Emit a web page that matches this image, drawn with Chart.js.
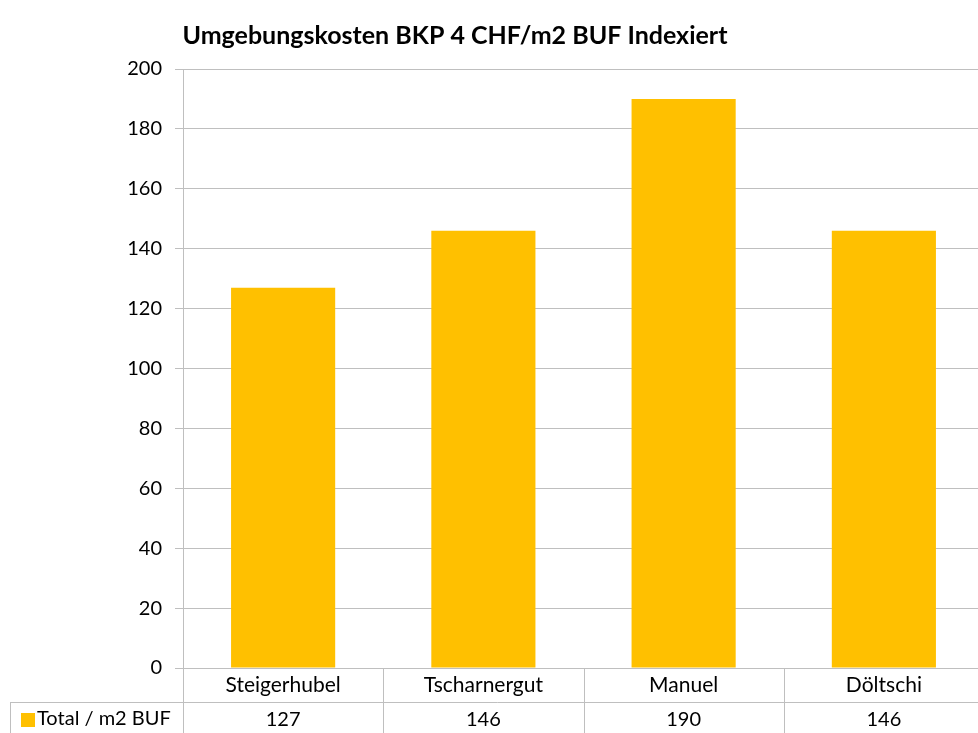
<!DOCTYPE html>
<html>
<head>
<meta charset="utf-8">
<script src="https://cdn.jsdelivr.net/npm/chart.js@4.4.0/dist/chart.umd.min.js"></script>
<style>
  html, body { margin: 0; padding: 0; background: #fff; overflow: hidden; }
  #wrap { width: 984px; height: 733px; }
</style>
</head>
<body>
<div id="wrap"><canvas id="chartBKP" width="984" height="733"></canvas></div>
<script>
const categories = ["Steigerhubel", "Tscharnergut", "Manuel", "Döltschi"];
const totals = [127, 146, 190, 146];
const seriesName = "Total / m2 BUF";
const chartTitle = "Umgebungskosten BKP 4 CHF/m2 BUF Indexiert";

const FONT = "Lato, 'Open Sans', sans-serif";
const GOLD = "#FFC000";
const LINE = "#bfbfbf";

// title + data table under the x axis
const tablePlugin = {
    id: "dataTable",
    afterDraw(chart) {
        const c = chart.ctx;
        const area = chart.chartArea;
        const xs = chart.scales.x;
        const rowTop = 702;
        const bottom = 733;
        c.save();
        c.strokeStyle = LINE;
        c.lineWidth = 1;
        c.beginPath();
        // horizontal line between label row and value row
        c.moveTo(10.5, rowTop + 0.5);
        c.lineTo(area.right, rowTop + 0.5);
        // left border of series cell
        c.moveTo(10.5, rowTop);
        c.lineTo(10.5, bottom);
        // column separators
        for (let i = 0; i <= categories.length; i++) {
            const x = Math.round(area.left + (area.right - area.left) * i / categories.length) + 0.5;
            c.moveTo(x, area.bottom);
            c.lineTo(x, bottom);
        }
        c.stroke();

        // legend key + series name
        c.fillStyle = GOLD;
        c.fillRect(21, 713, 14, 14);
        c.fillStyle = "#000";
        c.font = "20px " + FONT;
        c.textBaseline = "middle";
        c.textAlign = "left";
        c.fillText(seriesName, 37, 719);

        // values
        c.font = "20px " + FONT;
        c.textAlign = "center";
        totals.forEach((v, i) => {
            c.fillText(String(v), xs.getPixelForValue(i), 720);
        });

        // title
        c.font = "bold 25px " + FONT;
        c.fillText(chartTitle, 455, 36);
        c.restore();
    }
};

var ctx = document.getElementById("chartBKP").getContext("2d");
var chartBKP = new Chart(ctx, {
    type: "bar",
    data: {
        labels: categories,
        datasets: [{
            label: seriesName,
            data: totals,
            backgroundColor: GOLD,
            categoryPercentage: 1,
            barPercentage: 0.52
        }]
    },
    options: {
        responsive: false,
        animation: false,
        layout: { padding: { top: 69, left: 0, right: 0, bottom: 0 } },
        plugins: {
            legend: { display: false },
            tooltip: { enabled: false }
        },
        scales: {
            x: {
                grid: { display: false, drawTicks: false },
                border: { color: LINE },
                ticks: { color: "#000", font: { family: FONT, size: 21 }, padding: 5 },
                afterFit: (s) => { s.height = 65; }
            },
            y: {
                min: 0,
                max: 200,
                ticks: { stepSize: 20, color: "#000", font: { family: FONT, size: 20 }, padding: 13 },
                grid: { color: LINE, tickLength: 8, tickColor: LINE },
                border: { color: LINE },
                afterFit: (s) => { s.width = 183; }
            }
        }
    },
    plugins: [tablePlugin]
});
</script>
</body>
</html>
